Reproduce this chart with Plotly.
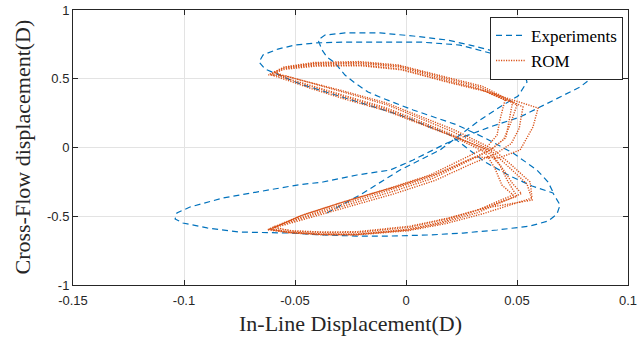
import plotly.graph_objects as go

# ---------------- data ----------------
x_tickvals = [-0.15, -0.1, -0.05, 0, 0.05, 0.1]
x_ticktext = ["-0.15", "-0.1", "-0.05", "0", "0.05", "0.1"]
y_tickvals = [-1, -0.5, 0, 0.5, 1]
y_ticktext = ["-1", "-0.5", "0", "0.5", "1"]
x_title = "In-Line Displacement(D)"
y_title = "Cross-Flow displacement(D)"

# Experiments (about one and a half figure-eight cycles)
exp_x = [-0.0356, -0.0207, -0.0027, 0.0153, 0.0333, 0.0423, 0.0505, 0.0545, 0.0532, 0.0500,
         0.0378, 0.0243, 0.0063, -0.0117, -0.0275, -0.0410, -0.0500, -0.0577, -0.0644, -0.0662,
         -0.0635, -0.0477, -0.0275, -0.0027, 0.0198, 0.0356, 0.0468, 0.0568, 0.0662, 0.0694,
         0.0680, 0.0640, 0.0559, 0.0410, 0.0257, 0.0108, -0.0072, -0.0221, -0.0374, -0.0523,
         -0.0748, -0.0896, -0.1005, -0.1040, -0.1032, -0.0973, -0.0824, -0.0671, -0.0491, -0.0374,
         -0.0221, -0.0072, 0.0032, 0.0185, 0.0378, 0.0514, 0.0595, 0.0694, 0.0784, 0.0842,
         0.0860, 0.0838, 0.0694, 0.0514, 0.0392, 0.0288, 0.0185, 0.0032, -0.0117, -0.0275,
         -0.0365, -0.0396, -0.0378, -0.0356, -0.0320, -0.0275, -0.0230, -0.0171, -0.0108, 0.0032,
         0.0167, 0.0230, 0.0356, 0.0482, 0.0590, 0.0640, 0.0662]
exp_y = [-0.476, -0.345, -0.164, -0.018, 0.200, 0.295, 0.375, 0.476, 0.549, 0.600,
         0.687, 0.745, 0.767, 0.767, 0.767, 0.760, 0.745, 0.716, 0.673, 0.622,
         0.571, 0.462, 0.360, 0.236, 0.091, -0.105, -0.207, -0.280, -0.331, -0.418,
         -0.484, -0.535, -0.571, -0.600, -0.622, -0.636, -0.644, -0.644, -0.636, -0.622,
         -0.615, -0.585, -0.549, -0.520, -0.476, -0.433, -0.367, -0.324, -0.273, -0.251,
         -0.200, -0.164, -0.091, 0.033, 0.149, 0.222, 0.287, 0.367, 0.440, 0.513,
         0.564, 0.629, 0.665, 0.687, 0.702, 0.745, 0.782, 0.811, 0.833, 0.833,
         0.818, 0.782, 0.709, 0.658, 0.615, 0.527, 0.469, 0.404, 0.360, 0.273,
         0.200, 0.164, 0.069, -0.040, -0.164, -0.251, -0.324]

# ROM: five successive figure-eight cycles
rom_x_c1 = [-0.0604, -0.0545, -0.0410, -0.0207, -0.0030, 0.0185, 0.0333, 0.0446, 0.0423, 0.0410, 0.0365,
            0.0266, 0.0108, -0.0072, -0.0297, -0.0477, -0.0613, -0.0520, -0.0374, -0.0221, 0.0005, 0.0153,
            0.0300, 0.0482, 0.0432, 0.0400, 0.0355, 0.0198, 0.0032, -0.0095, -0.0275, -0.0423, -0.0545]
rom_y_c1 = [0.535, 0.578, 0.607, 0.612, 0.585, 0.490, 0.425, 0.345, 0.200, 0.090, 0.004,
            -0.076, -0.200, -0.295, -0.404, -0.498, -0.590, -0.615, -0.629, -0.629, -0.595, -0.545,
            -0.470, -0.345, -0.273, -0.149, -0.033, 0.091, 0.200, 0.280, 0.367, 0.440, 0.505]
rom_x_c2 = [-0.0585, -0.0540, -0.0405, -0.0200, -0.0025, 0.0195, 0.0350, 0.0500, 0.0470, 0.0440, 0.0380,
            0.0280, 0.0120, -0.0060, -0.0285, -0.0470, -0.0600, -0.0515, -0.0370, -0.0215, 0.0015, 0.0170,
            0.0330, 0.0500, 0.0460, 0.0420, 0.0370, 0.0210, 0.0045, -0.0085, -0.0265, -0.0415, -0.0540]
rom_y_c2 = [0.545, 0.575, 0.598, 0.600, 0.570, 0.475, 0.415, 0.310, 0.170, 0.060, -0.020,
            -0.100, -0.225, -0.320, -0.428, -0.515, -0.578, -0.608, -0.618, -0.617, -0.580, -0.525,
            -0.450, -0.355, -0.250, -0.120, -0.010, 0.115, 0.225, 0.310, 0.395, 0.462, 0.520]
rom_x_c3 = [-0.0620, -0.0550, -0.0415, -0.0210, -0.0035, 0.0180, 0.0345, 0.0527, 0.0510, 0.0475, 0.0400,
            0.0300, 0.0130, -0.0050, -0.0280, -0.0465, -0.0625, -0.0525, -0.0378, -0.0225, 0.0010, 0.0175,
            0.0350, 0.0568, 0.0559, 0.0470, 0.0390, 0.0215, 0.0040, -0.0090, -0.0280, -0.0430, -0.0550]
rom_y_c3 = [0.528, 0.585, 0.618, 0.625, 0.600, 0.510, 0.445, 0.295, 0.140, 0.030, -0.050,
            -0.115, -0.240, -0.335, -0.440, -0.525, -0.598, -0.620, -0.635, -0.636, -0.605, -0.555,
            -0.480, -0.367, -0.251, -0.120, -0.010, 0.130, 0.240, 0.325, 0.410, 0.470, 0.522]
rom_x_c4 = [-0.0595, -0.0542, -0.0408, -0.0203, -0.0020, 0.0200, 0.0365, 0.0595, 0.0572, 0.0514, 0.0420,
            0.0310, 0.0140, -0.0045, -0.0275, -0.0460, -0.0595, -0.0518, -0.0372, -0.0218, 0.0020, 0.0185,
            0.0360, 0.0568, 0.0545, 0.0460, 0.0385, 0.0205, 0.0038, -0.0092, -0.0272, -0.0420, -0.0545]
rom_y_c4 = [0.548, 0.570, 0.592, 0.595, 0.565, 0.470, 0.405, 0.287, 0.149, -0.018, -0.075,
            -0.070, -0.190, -0.285, -0.392, -0.488, -0.582, -0.605, -0.615, -0.612, -0.572, -0.515,
            -0.440, -0.382, -0.265, -0.135, -0.025, 0.085, 0.190, 0.268, 0.350, 0.425, 0.495]
rom_x_c5 = [-0.0612, -0.0548, -0.0412, -0.0205, -0.0028, 0.0190, 0.0340, 0.0480, 0.0465, 0.0450, 0.0385,
            0.0285, 0.0115, -0.0065, -0.0290, -0.0472, -0.0618, -0.0522, -0.0376, -0.0223, 0.0008, 0.0160,
            0.0320, 0.0520, 0.0480, 0.0430, 0.0360, 0.0200, 0.0035, -0.0093, -0.0278, -0.0426, -0.0548,
            -0.0604]
rom_y_c5 = [0.530, 0.582, 0.612, 0.618, 0.592, 0.500, 0.435, 0.330, 0.185, 0.070, -0.010,
            -0.090, -0.212, -0.305, -0.415, -0.508, -0.594, -0.618, -0.632, -0.633, -0.600, -0.550,
            -0.475, -0.335, -0.262, -0.140, -0.020, 0.100, 0.210, 0.290, 0.378, 0.450, 0.510,
            0.535]

rom_x = rom_x_c1 + rom_x_c2 + rom_x_c3 + rom_x_c4 + rom_x_c5
rom_y = rom_y_c1 + rom_y_c2 + rom_y_c3 + rom_y_c4 + rom_y_c5

# ---------------- figure ----------------
BLUE = "#0072BD"
ORANGE = "#D95319"
AXC = "#262626"
SERIF = "Liberation Serif, Times New Roman, serif"
SANS = "Liberation Sans, Arial, sans-serif"

fig = go.Figure()
fig.add_trace(go.Scatter(x=exp_x, y=exp_y, mode="lines", name="Experiments",
                         line=dict(color=BLUE, width=1.2, dash="6px,4px")))
fig.add_trace(go.Scatter(x=rom_x, y=rom_y, mode="lines", name="ROM",
                         line=dict(color=ORANGE, width=1.4, dash="1.2px,1.3px")))

axis_common = dict(showline=True, linecolor=AXC, linewidth=1, mirror="allticks",
                   ticks="inside", ticklen=5, tickcolor=AXC, tickwidth=1,
                   showgrid=True, gridcolor="#e3e3e3", gridwidth=1, zeroline=False,
                   automargin=False,
                   tickfont=dict(family=SANS, size=13, color=AXC))

fig.update_xaxes(range=[-0.15, 0.1], tickvals=x_tickvals, ticktext=x_ticktext,
                 ticklabelstandoff=3, **axis_common)
fig.update_yaxes(range=[-1, 1], tickvals=y_tickvals, ticktext=y_ticktext,
                 **axis_common)

# axis titles placed as text annotations relative to the plot frame
fig.add_annotation(text=x_title, xref="paper", yref="paper", x=0.5, y=0,
                   xanchor="center", yanchor="middle", yshift=-38, showarrow=False,
                   font=dict(family=SERIF, size=22, color=AXC))
fig.add_annotation(text=y_title, xref="paper", yref="paper", x=0, y=0.5,
                   xanchor="center", yanchor="middle", xshift=-51, textangle=-90,
                   showarrow=False, font=dict(family=SERIF, size=22, color=AXC))

fig.update_layout(width=638, height=341,
                  margin=dict(l=73, r=10, t=10, b=56, autoexpand=False),
                  plot_bgcolor="white", paper_bgcolor="white",
                  legend=dict(x=0.991, xanchor="right", y=0.975, yanchor="top",
                              bgcolor="white", bordercolor=AXC, borderwidth=1,
                              font=dict(family=SERIF, size=17, color="black"),
                              itemwidth=30, tracegroupgap=0),
                  showlegend=True)

fig.write_html("out.html")
